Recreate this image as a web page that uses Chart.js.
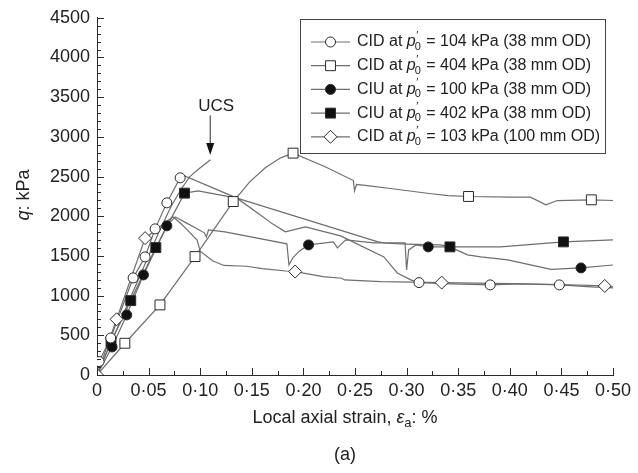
<!DOCTYPE html>
<html>
<head>
<meta charset="utf-8">
<script src="https://cdn.jsdelivr.net/npm/chart.js@4/dist/chart.umd.min.js"></script>
<style>
  html, body { margin: 0; padding: 0; background: #fff; }
  #wrap { width: 638px; height: 473px; }
</style>
</head>
<body>
<div id="wrap"><canvas id="chart" width="638" height="473"></canvas></div>
<script>
// axis ticks
const xTickVals = [0, 0.05, 0.10, 0.15, 0.20, 0.25, 0.30, 0.35, 0.40, 0.45, 0.50];
const xTickLabels = ['0', '0·05', '0·10', '0·15', '0·20', '0·25', '0·30', '0·35', '0·40', '0·45', '0·50'];
const yTickVals = [0, 500, 1000, 1500, 2000, 2500, 3000, 3500, 4000, 4500];

// CID at p'0 = 104 kPa (38 mm OD) - open circles
const cid104Strain = [0, 0.002, 0.0133, 0.035, 0.0466, 0.0563, 0.0677, 0.0806, 0.085, 0.1356, 0.158, 0.17, 0.1825, 0.202, 0.236, 0.278, 0.291, 0.304, 0.312, 0.343, 0.381, 0.41, 0.448, 0.479, 0.501];
const cid104Q = [0, 170, 466, 1223, 1488, 1841, 2169, 2484, 2509, 2228, 2018, 1904, 1803, 1866, 1753, 1488, 1286, 1198, 1164, 1148, 1135, 1148, 1135, 1110, 1097];
const cid104Marks = [1, 2, 3, 4, 5, 6, 7, 18, 20, 22];

// CID at p'0 = 404 kPa (38 mm OD) - open squares
const cid404Strain = [0, 0.027, 0.061, 0.095, 0.132, 0.148, 0.163, 0.178, 0.19, 0.22, 0.2485, 0.2495, 0.2515, 0.26, 0.29, 0.32, 0.34, 0.36, 0.40, 0.42, 0.435, 0.446, 0.479, 0.501];
const cid404Q = [0, 400, 883, 1492, 2185, 2433, 2610, 2736, 2795, 2630, 2450, 2320, 2400, 2390, 2340, 2290, 2260, 2249, 2240, 2240, 2144, 2198, 2207, 2198];
const cid404Marks = [1, 2, 3, 4, 8, 17, 22];

// CIU at p'0 = 100 kPa (38 mm OD) - filled circles
const ciu100Strain = [0, 0.0146, 0.0288, 0.045, 0.0677, 0.0757, 0.087, 0.104, 0.106, 0.108, 0.124, 0.184, 0.186, 0.19, 0.196, 0.205, 0.229, 0.233, 0.241, 0.268, 0.2985, 0.300, 0.302, 0.309, 0.321, 0.342, 0.359, 0.372, 0.398, 0.43, 0.44, 0.469, 0.501];
const ciu100Q = [0, 353, 757, 1261, 1879, 1992, 1913, 1791, 1740, 1828, 1803, 1652, 1387, 1480, 1560, 1639, 1677, 1601, 1702, 1665, 1665, 1324, 1576, 1639, 1614, 1614, 1513, 1488, 1450, 1360, 1330, 1349, 1387];
const ciu100Marks = [1, 2, 3, 4, 15, 24, 31];

// CIU at p'0 = 402 kPa (38 mm OD) - filled squares
const ciu402Strain = [0, 0.0136, 0.0327, 0.057, 0.0848, 0.098, 0.1356, 0.2715, 0.28, 0.30, 0.333, 0.342, 0.391, 0.452, 0.501];
const ciu402Q = [0, 416, 937, 1605, 2291, 2320, 2228, 1681, 1660, 1650, 1640, 1614, 1614, 1677, 1702];
const ciu402Marks = [1, 2, 3, 4, 11, 13];

// CID at p'0 = 103 kPa (100 mm OD) - open diamonds
const cid103Strain = [0, 0.019, 0.0466, 0.0735, 0.082, 0.097, 0.1, 0.112, 0.123, 0.145, 0.16, 0.183, 0.192, 0.219, 0.237, 0.240, 0.275, 0.334, 0.40, 0.45, 0.492, 0.501];
const cid103Q = [0, 702, 1724, 1992, 1900, 1700, 1560, 1440, 1380, 1370, 1340, 1310, 1303, 1240, 1219, 1198, 1177, 1164, 1150, 1140, 1122, 1110];
const cid103Marks = [0, 1, 2, 12, 17, 20];

// UCS curve
const ucsStrain = [0, 0.015, 0.03, 0.045, 0.06, 0.072, 0.082, 0.09, 0.1, 0.11];
const ucsQ = [0, 450, 900, 1350, 1800, 2130, 2350, 2500, 2610, 2711];

const legendTest = ['CID', 'CID', 'CIU', 'CIU', 'CID'];
const legendP = ['104', '404', '100', '402', '103'];
const legendOD = ['38', '38', '38', '38', '100'];

const lineColor = '#6e6e6e';
const edgeColor = '#2a2a2a';
const fontFam = '"Liberation Sans", Arial, Helvetica, sans-serif';

function pts(xs, ys) {
    return xs.map((x, i) => ({ x: x, y: ys[i] }));
}
function marks(xs, ys, idx) {
    return idx.map(i => ({ x: xs[i], y: ys[i] }));
}

const series = [
    { xs: cid104Strain, ys: cid104Q, idx: cid104Marks, style: 'circle', r: 5, fill: '#fff' },
    { xs: cid404Strain, ys: cid404Q, idx: cid404Marks, style: 'rect', r: 7, fill: '#fff' },
    { xs: ciu100Strain, ys: ciu100Q, idx: ciu100Marks, style: 'circle', r: 5, fill: '#111' },
    { xs: ciu402Strain, ys: ciu402Q, idx: ciu402Marks, style: 'rect', r: 7, fill: '#111' },
    { xs: cid103Strain, ys: cid103Q, idx: cid103Marks, style: 'rectRot', r: 6.5, fill: '#fff' }
];

const datasets = [];
series.forEach(s => {
    datasets.push({
        data: pts(s.xs, s.ys),
        showLine: true,
        borderColor: lineColor,
        borderWidth: 1.2,
        pointRadius: 0,
        order: 3
    });
    datasets.push({
        data: marks(s.xs, s.ys, s.idx),
        showLine: false,
        pointStyle: s.style,
        pointRadius: s.r,
        pointBackgroundColor: s.fill,
        pointBorderColor: edgeColor,
        pointBorderWidth: 1,
        order: 1
    });
});
datasets.push({
    data: pts(ucsStrain, ucsQ),
    showLine: true,
    borderColor: lineColor,
    borderWidth: 1.2,
    pointRadius: 0,
    order: 2
});

function drawParts(ctx, parts, x, y) {
    // parts: [text, font, dy, noAdvance]
    parts.forEach(p => {
        ctx.font = p[1];
        ctx.fillText(p[0], x, y + (p[2] || 0));
        if (!p[3]) x += ctx.measureText(p[0]).width;
    });
    return x;
}
function partsWidth(ctx, parts) {
    let w = 0;
    parts.forEach(p => {
        ctx.font = p[1];
        if (!p[3]) w += ctx.measureText(p[0]).width;
    });
    return w;
}

const decor = {
    id: 'decor',
    afterDraw(chart) {
        const ctx = chart.ctx;
        const xs = chart.scales.x, ys = chart.scales.y;
        const area = chart.chartArea;
        ctx.save();
        ctx.strokeStyle = edgeColor;
        ctx.lineWidth = 1;

        // inward ticks
        for (let i = 0; i <= 20; i++) {
            const px = Math.round(xs.getPixelForValue(i * 0.025)) + 0.5;
            const len = i % 2 === 0 ? 7 : 4;
            ctx.beginPath();
            ctx.moveTo(px, area.bottom);
            ctx.lineTo(px, area.bottom - len);
            ctx.stroke();
        }
        for (let i = 0; i <= 45; i++) {
            const py = Math.round(ys.getPixelForValue(i * 100)) + 0.5;
            const len = i % 5 === 0 ? 7 : 4;
            ctx.beginPath();
            ctx.moveTo(area.left, py);
            ctx.lineTo(area.left + len, py);
            ctx.stroke();
        }

        // UCS arrow
        const ax = xs.getPixelForValue(0.1097);
        const aTop = ys.getPixelForValue(3270);
        const aTip = ys.getPixelForValue(2770);
        ctx.beginPath();
        ctx.moveTo(ax, aTop);
        ctx.lineTo(ax, aTip - 10);
        ctx.stroke();
        ctx.fillStyle = '#111';
        ctx.beginPath();
        ctx.moveTo(ax - 4, aTip - 12);
        ctx.lineTo(ax + 4, aTip - 12);
        ctx.lineTo(ax, aTip);
        ctx.closePath();
        ctx.fill();
        ctx.fillStyle = '#222';
        ctx.font = '17px ' + fontFam;
        ctx.textAlign = 'center';
        ctx.textBaseline = 'middle';
        ctx.fillText('UCS', xs.getPixelForValue(0.1155), ys.getPixelForValue(3390));

        // legend
        const lx = 300.5, ly = 19.5, lw = 305, lh = 134;
        ctx.fillStyle = '#fff';
        ctx.fillRect(lx, ly, lw, lh);
        ctx.strokeStyle = '#444';
        ctx.strokeRect(lx, ly, lw, lh);
        ctx.textAlign = 'left';
        for (let i = 0; i < series.length; i++) {
            const s = series[i];
            const y = 42 + i * 23.7;
            ctx.strokeStyle = lineColor;
            ctx.lineWidth = 1.2;
            ctx.beginPath();
            ctx.moveTo(311, y);
            ctx.lineTo(350, y);
            ctx.stroke();
            ctx.fillStyle = s.fill;
            ctx.strokeStyle = edgeColor;
            ctx.lineWidth = 1;
            Chart.helpers.drawPoint(ctx, { pointStyle: s.style, radius: s.r, rotation: 0, borderWidth: 1 }, 330.5, y);
            ctx.fillStyle = '#222';
            const f = '16px ' + fontFam;
            const fi = 'italic 16px ' + fontFam;
            const fs = '11px ' + fontFam;
            let x = drawParts(ctx, [[legendTest[i] + ' at ', f], ['p', fi]], 357, y);
            drawParts(ctx, [['′', fs, -6, true]], x + 0.5, y);
            x = drawParts(ctx, [['0', fs, 5]], x - 1, y);
            drawParts(ctx, [[' = ' + legendP[i] + ' kPa (' + legendOD[i] + ' mm OD)', f]], x + 1, y);
        }

        // axis titles
        ctx.fillStyle = '#222';
        const tf = '18px ' + fontFam;
        const tfi = 'italic 18px ' + fontFam;
        const tfs = '13px ' + fontFam;
        const xt = [['Local axial strain, ', tf], ['ε', tfi], ['a', tfs, 5], [': %', tf]];
        const xw = partsWidth(ctx, xt);
        const cx = (area.left + area.right) / 2 - 10;
        drawParts(ctx, xt, cx - xw / 2, 418);
        ctx.font = tf;
        ctx.textAlign = 'center';
        ctx.fillText('(a)', cx, 455);
        ctx.textAlign = 'left';

        ctx.translate(24, 195);
        ctx.rotate(-Math.PI / 2);
        const yt = [['q', tfi], [': kPa', tf]];
        const yw = partsWidth(ctx, yt);
        drawParts(ctx, yt, -yw / 2, 0);
        ctx.restore();
    }
};

const chart = new Chart(document.getElementById('chart'), {
    type: 'scatter',
    data: { datasets: datasets },
    options: {
        responsive: false,
        animation: false,
        devicePixelRatio: 1,
        layout: { padding: { top: 17, right: 25, left: 0, bottom: 0 } },
        plugins: { legend: { display: false }, tooltip: { enabled: false } },
        scales: {
            x: {
                type: 'linear',
                min: 0,
                max: 0.5,
                grid: { display: false, drawTicks: false },
                border: { display: true, color: edgeColor, width: 1 },
                afterBuildTicks: s => { s.ticks = xTickVals.map(v => ({ value: v })); },
                afterFit: s => { s.height = 98; },
                ticks: {
                    padding: 5,
                    color: '#222',
                    font: { family: fontFam, size: 18 },
                    maxRotation: 0,
                    autoSkip: false,
                    callback: (v, i) => xTickLabels[i]
                }
            },
            y: {
                type: 'linear',
                min: 0,
                max: 4500,
                grid: { display: false, drawTicks: false },
                border: { display: true, color: edgeColor, width: 1 },
                afterBuildTicks: s => { s.ticks = yTickVals.map(v => ({ value: v })); },
                afterFit: s => { s.width = 97; },
                ticks: {
                    padding: 7,
                    color: '#222',
                    font: { family: fontFam, size: 18 },
                    autoSkip: false,
                    callback: v => String(v)
                }
            }
        }
    },
    plugins: [decor]
});
</script>
</body>
</html>
